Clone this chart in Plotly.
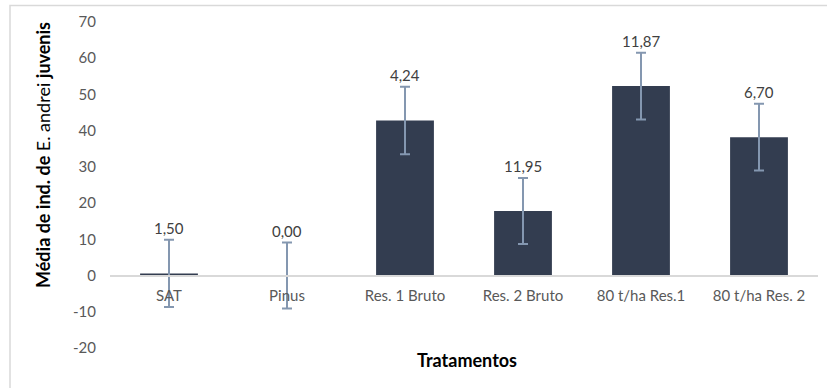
import plotly.graph_objects as go

# Treatment means, standard deviations and the printed value labels
tratamentos = ["SAT", "Pinus", "Res. 1 Bruto", "Res. 2 Bruto", "80 t/ha Res.1", "80 t/ha Res. 2"]
medias = [0.6, 0.0, 42.8, 17.8, 52.3, 38.2]
desvios = [9.3, 9.1, 9.3, 9.1, 9.2, 9.2]
rotulos = ["1,50", "0,00", "4,24", "11,95", "11,87", "6,70"]
y_ticks = [-20, -10, 0, 10, 20, 30, 40, 50, 60, 70]
y_tick_text = ["-20", "-10", "0", "10", "20", "30", "40", "50", "60", "70"]

W, H = 827, 388
L, R, T, B = 110, 9, 22, 40
plot_h = H - T - B
plot_w = W - L - R
y_min, y_max = -20, 70

font_family = "Lato, 'Open Sans', sans-serif"
bar_color = "#333d50"
err_color = "#8497b0"
axis_color = "#d9d9d9"

fig = go.Figure()
fig.add_trace(go.Bar(
    x=tratamentos,
    y=medias,
    marker=dict(color=bar_color, line=dict(width=0)),
    error_y=dict(type="data", array=desvios, visible=True,
                 color=err_color, thickness=2, width=5),
    hoverinfo="skip",
))

# value labels above each error bar
annotations = []
for cat, m, d, txt in zip(tratamentos, medias, desvios, rotulos):
    annotations.append(dict(
        x=cat, y=m + d, xref="x", yref="y", text=txt, showarrow=False,
        yshift=12, font=dict(family=font_family, size=15, color="#404040"),
    ))

# y-axis title with mixed weight
annotations.append(dict(
    x=(43 - L) / plot_w, y=(H - B - 155) / plot_h, xref="paper", yref="paper",
    xanchor="center", yanchor="middle",
    text="<b>Média de ind. de</b> E. andrei <b>juvenis</b>", textangle=-90,
    showarrow=False, font=dict(family=font_family, size=18, color="#000000"),
))
# x-axis title
annotations.append(dict(
    x=(467 - L) / plot_w, y=(H - B - 360) / plot_h, xref="paper", yref="paper",
    xanchor="center", yanchor="middle",
    text="<b>Tratamentos</b>", showarrow=False,
    font=dict(family=font_family, size=18, color="#000000"),
))

zero_pos = (0 - y_min) / (y_max - y_min)

fig.update_layout(
    width=W, height=H,
    margin=dict(l=L, r=R, t=T, b=B),
    paper_bgcolor="white", plot_bgcolor="white",
    showlegend=False,
    bargap=0.51,
    annotations=annotations,
    xaxis=dict(
        type="category", anchor="free", position=zero_pos,
        showline=True, linecolor=axis_color, linewidth=2,
        showgrid=False, ticks="", ticklen=0, ticklabelstandoff=6,
        tickfont=dict(family=font_family, size=15, color="#595959"),
    ),
    yaxis=dict(
        range=[y_min, y_max], tickvals=y_ticks, ticktext=y_tick_text,
        showgrid=False, zeroline=False, showline=False, ticks="", ticklen=0,
        ticklabelstandoff=13,
        tickfont=dict(family=font_family, size=15, color="#595959"),
    ),
    shapes=[dict(
        type="rect", xref="paper", yref="paper",
        x0=(10 - L) / plot_w, x1=1.1,
        y0=-0.3, y1=1 + (T - 5.5) / plot_h,
        line=dict(color=axis_color, width=1.5), fillcolor="rgba(0,0,0,0)",
        layer="below",
    )],
)

fig.write_html("out.html")
